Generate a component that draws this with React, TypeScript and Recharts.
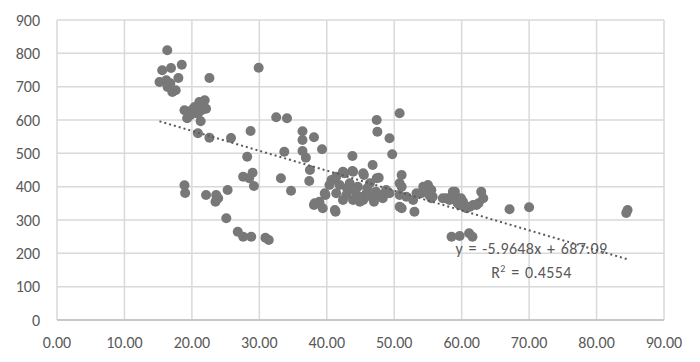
import { ScatterChart, Scatter, XAxis, YAxis, CartesianGrid } from "recharts";

// values, x and y kept as parallel lists
const xValues = [
  16.35, 15.6, 16.9, 18.5, 18.0, 15.2, 16.2, 16.4, 17.1, 17.6, 16.8, 22.6, 18.9, 19.3, 20.4, 21.1,
  21.9, 22.1, 20.9, 21.3, 20.0, 21.5, 20.9, 22.6, 25.8, 29.9, 21.6, 19.8,
  18.9, 19.0, 22.1, 23.6, 23.9, 23.5, 25.3, 25.1, 26.8, 27.6, 28.8, 30.9, 31.4, 27.6, 29.0, 28.5,
  29.2, 28.2, 28.7,
  32.5, 34.1, 36.4, 36.4, 38.1, 39.3, 33.7, 36.4, 36.9, 37.5, 37.4, 33.2, 34.7, 38.1, 38.9, 39.4,
  39.8, 38.2,
  40.7, 41.3, 41.4, 42.6, 43.8, 45.5, 47.4, 43.8, 46.8, 47.4, 47.5, 49.3, 49.7, 47.7, 51.1, 42.4,
  43.9, 45.4, 40.9, 40.4, 41.9, 43.4, 44.6, 46.4, 39.7, 41.4, 42.9, 44.4, 45.9, 47.3, 48.8, 42.4,
  43.9, 45.4, 46.8, 48.3, 49.3, 41.2, 38.9, 50.8, 50.8, 50.8, 51.8, 53.0, 52.8, 54.0, 55.0, 55.7,
  50.8, 44.0, 45.0, 46.0, 47.0, 48.0, 43.0, 44.9, 46.5,
  55.5, 55.5, 57.7, 59.0, 59.2, 59.7, 60.7, 61.7, 62.9, 63.2, 62.5, 60.2, 58.5, 53.3, 54.3, 55.2,
  55.2, 57.2, 58.7, 58.2, 59.4, 60.4, 61.2, 62.2, 59.9, 51.1, 51.1,
  67.1, 70.0, 58.5, 59.7, 61.1, 61.6, 84.4, 84.6,
];
const yValues = [
  809, 749, 756, 766, 726, 714, 719, 699, 684, 689, 710, 726, 629, 605, 639, 654,
  659, 634, 619, 596, 630, 630, 560, 547, 546, 757, 645, 615,
  404, 381, 375, 375, 365, 355, 390, 305, 265, 250, 250, 247, 240, 430, 442, 425,
  402, 490, 567,
  608, 605, 566, 540, 548, 512, 505, 507, 487, 450, 417, 425, 388, 345, 350, 335,
  375, 350,
  420, 325, 430, 440, 447, 435, 425, 492, 465, 600, 565, 545, 497, 427, 435, 445,
  445, 440, 420, 405, 405, 410, 400, 410, 380, 380, 375, 375, 380, 385, 390, 360,
  360, 360, 365, 365, 380, 330, 355, 410, 375, 340, 370, 325, 360, 380, 405, 370,
  620, 390, 370, 395, 355, 375, 395, 355, 380,
  390, 365, 365, 385, 360, 345, 335, 345, 385, 365, 350, 355, 370, 380, 400, 395,
  375, 365, 385, 360, 350, 340, 340, 345, 365, 400, 335,
  332, 338, 250, 252, 260, 250, 321, 330,
];

// dotted linear trend, end points
const trendX = [15.2, 84.6];
const trendY = [596, 182];

const xTicks = [0, 10, 20, 30, 40, 50, 60, 70, 80, 90];
const yTicks = [0, 100, 200, 300, 400, 500, 600, 700, 800, 900];

const points = xValues.map((x, i) => ({ x, y: yValues[i] }));
const trend = trendX.map((x, i) => ({ x, y: trendY[i] }));

const FONT = "Carlito, Calibri, Lato, sans-serif";
const tickStyle = { fill: "#595959", fontSize: 16, fontFamily: FONT };

export default function App() {
  return (
    <div style={{ position: "fixed", top: 0, left: 0, width: 700, height: 362, background: "#fff" }}>
      <ScatterChart width={700} height={362} margin={{ top: 20, right: 36, bottom: 0, left: 0 }}>
        <CartesianGrid stroke="#d9d9d9" strokeWidth={1.5} />
        <XAxis
          type="number"
          dataKey="x"
          domain={[0, 90]}
          ticks={xTicks}
          tickFormatter={(v: number) => v.toFixed(2)}
          tick={tickStyle}
          tickSize={0}
          tickMargin={17}
          axisLine={{ stroke: "#bfbfbf", strokeWidth: 1.5 }}
          height={42}
          interval={0}
        />
        <YAxis
          type="number"
          dataKey="y"
          domain={[0, 900]}
          ticks={yTicks}
          tick={tickStyle}
          tickSize={0}
          tickMargin={17}
          axisLine={false}
          width={57}
          interval={0}
        />
        <Scatter
          data={points}
          isAnimationActive={false}
          shape={(p: any) => <circle cx={p.cx} cy={p.cy} r={5} fill="#787878" />}
        />
        <Scatter
          data={trend}
          isAnimationActive={false}
          line={{ stroke: "#5a5a5a", strokeWidth: 2, strokeDasharray: "2 3" }}
          shape={() => <g />}
        />
      </ScatterChart>
      <div
        style={{
          position: "absolute",
          left: 450,
          top: 237,
          fontFamily: FONT,
          fontSize: 16,
          color: "#595959",
          lineHeight: "24px",
          whiteSpace: "nowrap",
          textAlign: "center",
          width: 163,
          letterSpacing: "0.35px",
          wordSpacing: "1.5px",
        }}
      >
        <div>y = -5.9648x + 687.09</div>
        <div>
          R<sup style={{ fontSize: 10, lineHeight: 0 }}>2</sup> = 0.4554
        </div>
      </div>
    </div>
  );
}
